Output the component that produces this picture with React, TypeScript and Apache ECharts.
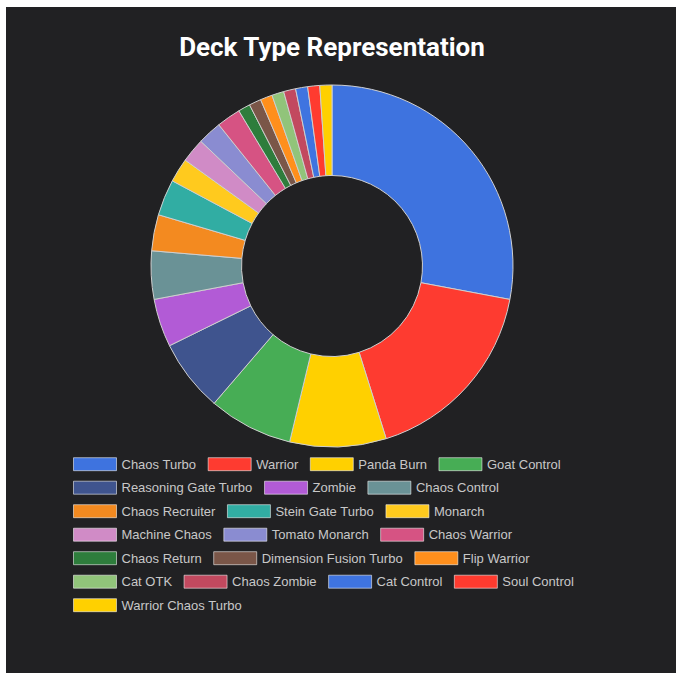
import React, { useEffect, useRef } from "react";
import * as echarts from "echarts";

const titleText = "Deck Type Representation";

const deckNames = [
  "Chaos Turbo", "Warrior", "Panda Burn", "Goat Control",
  "Reasoning Gate Turbo", "Zombie", "Chaos Control",
  "Chaos Recruiter", "Stein Gate Turbo", "Monarch",
  "Machine Chaos", "Tomato Monarch", "Chaos Warrior",
  "Chaos Return", "Dimension Fusion Turbo", "Flip Warrior",
  "Cat OTK", "Chaos Zombie", "Cat Control", "Soul Control",
  "Warrior Chaos Turbo",
];

const deckCounts = [26, 16, 8, 7, 6, 4, 4, 3, 3, 2, 2, 2, 2, 1, 1, 1, 1, 1, 1, 1, 1];

const deckColors = [
  "#3e73df", "#fe3b30", "#ffd000", "#47ad55",
  "#3f548e", "#b25bd6", "#6a9296",
  "#f38a20", "#31ada3", "#ffca1e",
  "#d08bc6", "#8a8cd1", "#d65383",
  "#2e7d3c", "#7a5648", "#ff8f1c",
  "#91c47a", "#c2495f", "#3f74e0", "#ff3b2f",
  "#ffd000",
];

// number of legend entries on each legend row
const legendRowSizes = [4, 3, 3, 3, 3, 4, 1];

export default function App() {
  const ref = useRef<HTMLDivElement>(null);

  useEffect(() => {
    if (!ref.current) return;
    const chart = echarts.init(ref.current, undefined, { renderer: "svg" });

    const legends: any[] = [];
    let idx = 0;
    legendRowSizes.forEach((n, r) => {
      legends.push({
        orient: "horizontal",
        left: 73,
        top: 457.2 + r * 23.5,
        padding: 0,
        itemWidth: 43,
        itemHeight: 13,
        itemGap: 11.5,
        icon: "rect",
        selectedMode: false,
        itemStyle: { borderColor: "rgba(255,255,255,0.55)", borderWidth: 1 },
        textStyle: {
          color: "#c8c8c8",
          fontSize: 13,
          fontFamily: "'Liberation Sans', Arial, sans-serif",
          padding: [0, 0, 0, 0],
        },
        data: deckNames.slice(idx, idx + n),
      });
      idx += n;
    });

    chart.setOption({
      animation: false,
      backgroundColor: "#ffffff",
      color: deckColors,
      title: {
        text: titleText,
        left: 332,
        top: 34,
        padding: 0,
        textAlign: "center",
        textStyle: {
          color: "#ffffff",
          fontSize: 26,
          fontWeight: "bold",
          fontFamily: "Roboto, 'Noto Sans', sans-serif",
        },
      },
      graphic: [
        {
          type: "rect",
          z: -10,
          silent: true,
          shape: { x: 6, y: 7, width: 670, height: 666 },
          style: { fill: "#212123" },
        },
      ],
      legend: legends,
      series: [
        {
          type: "pie",
          center: [332, 266],
          radius: [90.5, 181],
          startAngle: 90,
          clockwise: true,
          avoidLabelOverlap: false,
          label: { show: false },
          labelLine: { show: false },
          emphasis: { disabled: true },
          itemStyle: { borderColor: "#cfcfcf", borderWidth: 1 },
          data: deckNames.map((name, i) => ({
            name,
            value: deckCounts[i],
            itemStyle: { color: deckColors[i] },
          })),
        },
      ],
    });

    return () => chart.dispose();
  }, []);

  return (
    <div
      ref={ref}
      style={{ position: "fixed", left: 0, top: 0, width: 676, height: 673 }}
    />
  );
}
